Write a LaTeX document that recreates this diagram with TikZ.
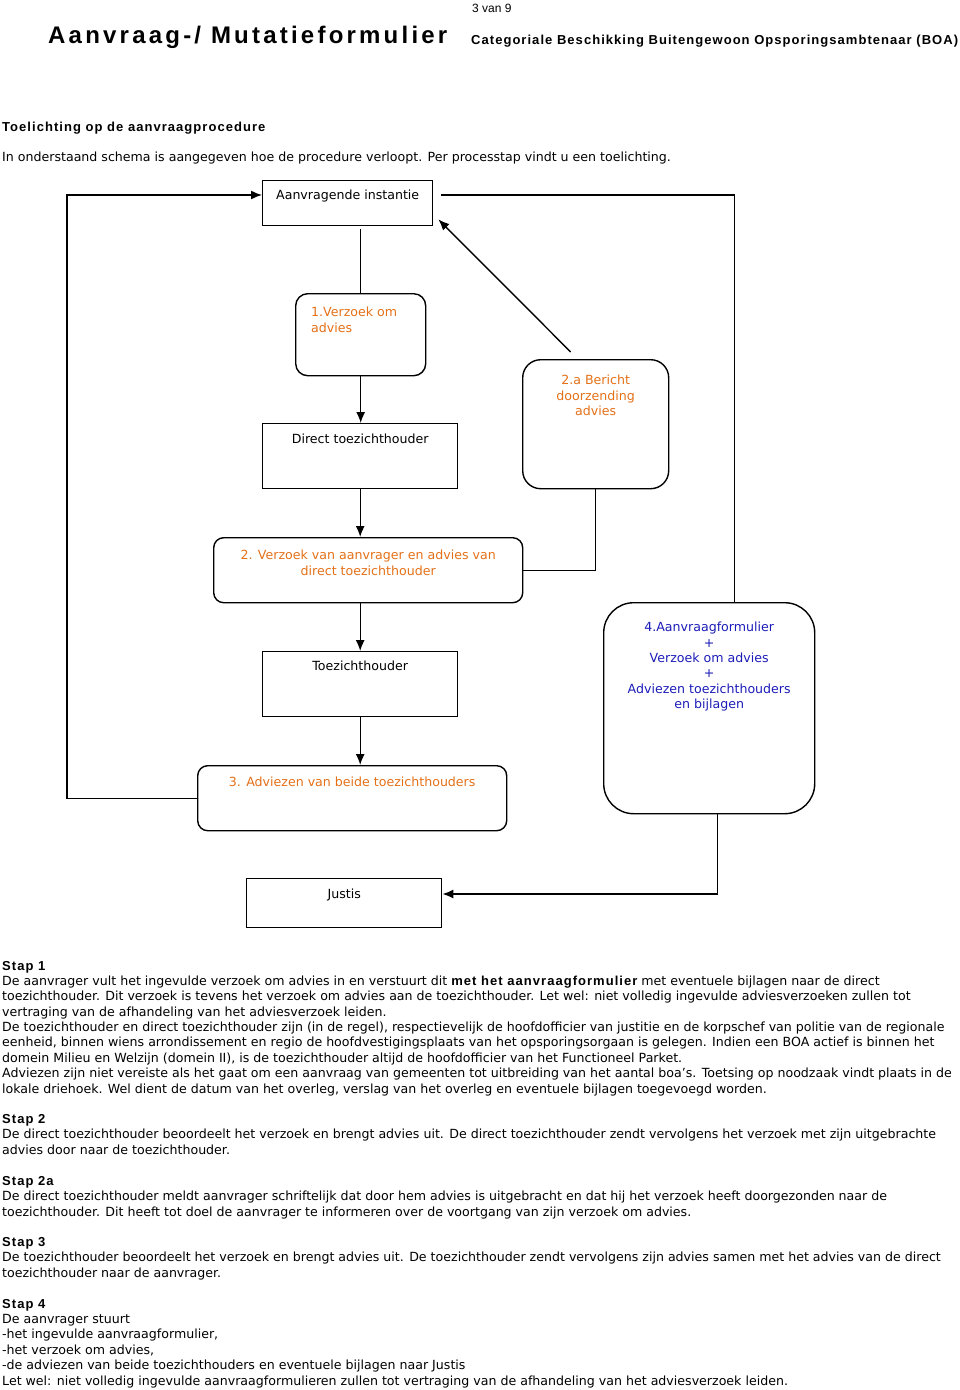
\documentclass[tikz,border=0pt]{standalone}
\usepackage{fontspec}
\setmainfont{DejaVu Sans}
\newfontfamily\arialfont{Liberation Sans}
\newfontfamily\sperfont[LetterSpace=8]{Liberation Sans Bold}
\usetikzlibrary{arrows.meta,calc}
\definecolor{staporanje}{RGB}{228,112,24}
\definecolor{stapblauw}{RGB}{28,28,184}

\begin{document}
\begin{tikzpicture}[x=1pt, y=-1pt, font=\fontsize{12.6}{15.35}\selectfont,
    hoek/.style={draw, line width=1.4pt, anchor=north west, inner sep=0pt},
    tekst/.style={anchor=north, align=center, inner sep=0pt},
    oranje/.style={tekst, text=staporanje},
    blauw/.style={tekst, text=stapblauw},
    pijl/.style={line width=1.4pt, -{Latex[length=11pt,width=9pt]}},
    lijn/.style={line width=1.4pt},
    regel/.style={anchor=base west, inner sep=0pt},
    alinea/.style={anchor=base west, align=left, inner sep=0pt}]
    \useasboundingbox (0,0) rectangle (960,1390);

    % Kop van de pagina
    \node[regel, font=\arialfont\fontsize{12}{14}\selectfont] (pagina) at (472,12) {3 van 9};
    \node[regel, font=\sperfont\addfontfeatures{LetterSpace=13.4}\fontsize{24}{28}\selectfont] (titel) at (48,43) {Aanvraag-/ Mutatieformulier};
    \node[regel, font=\sperfont\fontsize{13}{15}\selectfont] (ondertitel) at (471,44) {Categoriale Beschikking Buitengewoon Opsporingsambtenaar (BOA)};
    \node[regel, font=\sperfont\fontsize{13}{15}\selectfont] (toelichting) at (2,131) {Toelichting op de aanvraagprocedure};
    \node[regel] (intro) at (2,161) {In onderstaand schema is aangegeven hoe de procedure verloopt. Per processtap vindt u een toelichting.};

    % Blokken van het schema
    \node[hoek, minimum width=170, minimum height=45, label={[tekst, yshift=-10pt]north:Aanvragende instantie}] (aanvrager) at (262,180) {};
    \node[hoek, rounded corners=12pt, minimum width=130, minimum height=82, label={[oranje, anchor=north west, align=left, xshift=16pt, yshift=-14pt]north west:1.Verzoek om\\advies}] (verzoek) at (295,293) {};
    \node[hoek, minimum width=195, minimum height=65, label={[tekst, yshift=-11pt]north:Direct toezichthouder}] (direct) at (262,423) {};
    \node[hoek, rounded corners=18pt, minimum width=146, minimum height=129, label={[oranje, yshift=-16pt]north:2.a Bericht\\doorzending\\advies}] (bericht) at (522,359) {};
    \node[hoek, rounded corners=10pt, minimum width=309, minimum height=65, label={[oranje, yshift=-13pt]north:2. Verzoek van aanvrager en advies van\\direct toezichthouder}] (advies) at (213,537) {};
    \node[hoek, minimum width=195, minimum height=65, label={[tekst, yshift=-10pt]north:Toezichthouder}] (toezicht) at (262,651) {};
    \node[hoek, rounded corners=30pt, minimum width=211, minimum height=211, label={[blauw, yshift=-20pt]north:4.Aanvraagformulier\\+\\Verzoek om advies\\+\\Adviezen toezichthouders\\en bijlagen}] (formulier) at (603,602) {};
    \node[hoek, rounded corners=10pt, minimum width=309, minimum height=65, label={[oranje, yshift=-12pt]north:3. Adviezen van beide toezichthouders}] (beide) at (197,765) {};
    \node[hoek, minimum width=195, minimum height=49, label={[tekst, yshift=-11pt]north:Justis}] (justis) at (246,878) {};

    % Verbindingen
    \draw[lijn] ([yshift=-3pt]verzoek.north |- aanvrager.south) -- (verzoek.north);
    \draw[pijl] (verzoek.south) -- (verzoek.south |- direct.north);
    \draw[pijl] (direct.south) -- (direct.south |- advies.north);
    \draw[pijl] (toezicht.north |- advies.south) -- (toezicht.north);
    \draw[pijl] (toezicht.south) -- (toezicht.south |- beide.north);
    \draw[lijn] (advies.east) -| (bericht.south);
    \draw[pijl] ([xshift=-25pt, yshift=7pt]bericht.north) -- ([xshift=5pt, yshift=7pt]aanvrager.south east);
    \draw[lijn] ($(aanvrager.north east)+(8,15)$) -| ([xshift=25pt]formulier.north);
    \draw[pijl] (beide.west) -- ++(-130,0) |- ($(aanvrager.north west)+(0,15)$);
    \draw[pijl] ([xshift=8pt]formulier.south) |- ($(justis.north east)+(0,16)$);

    % Toelichting per stap (basislijn van de laatste regel)
    \node[alinea] (stap1) at (2,1093) {{\sperfont\fontsize{13}{15}\selectfont Stap 1}\\
De aanvrager vult het ingevulde verzoek om advies in en verstuurt dit {\sperfont\fontsize{13}{15}\selectfont met het aanvraagformulier} met eventuele bijlagen naar de direct\\
toezichthouder. Dit verzoek is tevens het verzoek om advies aan de toezichthouder. Let wel: niet volledig ingevulde adviesverzoeken zullen tot\\
vertraging van de afhandeling van het adviesverzoek leiden.\\
De toezichthouder en direct toezichthouder zijn (in de regel), respectievelijk de hoofdofficier van justitie en de korpschef van politie van de regionale\\
eenheid, binnen wiens arrondissement en regio de hoofdvestigingsplaats van het opsporingsorgaan is gelegen. Indien een BOA actief is binnen het\\
domein Milieu en Welzijn (domein II), is de toezichthouder altijd de hoofdofficier van het Functioneel Parket.\\
Adviezen zijn niet vereiste als het gaat om een aanvraag van gemeenten tot uitbreiding van het aantal boa's. Toetsing op noodzaak vindt plaats in de\\
lokale driehoek. Wel dient de datum van het overleg, verslag van het overleg en eventuele bijlagen toegevoegd worden.};
    \node[alinea] (stap2) at (2,1154) {{\sperfont\fontsize{13}{15}\selectfont Stap 2}\\
De direct toezichthouder beoordeelt het verzoek en brengt advies uit. De direct toezichthouder zendt vervolgens het verzoek met zijn uitgebrachte\\
advies door naar de toezichthouder.};
    \node[alinea] (stap2a) at (2,1216) {{\sperfont\fontsize{13}{15}\selectfont Stap 2a}\\
De direct toezichthouder meldt aanvrager schriftelijk dat door hem advies is uitgebracht en dat hij het verzoek heeft doorgezonden naar de\\
toezichthouder. Dit heeft tot doel de aanvrager te informeren over de voortgang van zijn verzoek om advies.};
    \node[alinea] (stap3) at (2,1277) {{\sperfont\fontsize{13}{15}\selectfont Stap 3}\\
De toezichthouder beoordeelt het verzoek en brengt advies uit. De toezichthouder zendt vervolgens zijn advies samen met het advies van de direct\\
toezichthouder naar de aanvrager.};
    \node[alinea] (stap4) at (2,1385) {{\sperfont\fontsize{13}{15}\selectfont Stap 4}\\
De aanvrager stuurt\\
-het ingevulde aanvraagformulier,\\
-het verzoek om advies,\\
-de adviezen van beide toezichthouders en eventuele bijlagen naar Justis\\
Let wel: niet volledig ingevulde aanvraagformulieren zullen tot vertraging van de afhandeling van het adviesverzoek leiden.};
\end{tikzpicture}
\end{document}
